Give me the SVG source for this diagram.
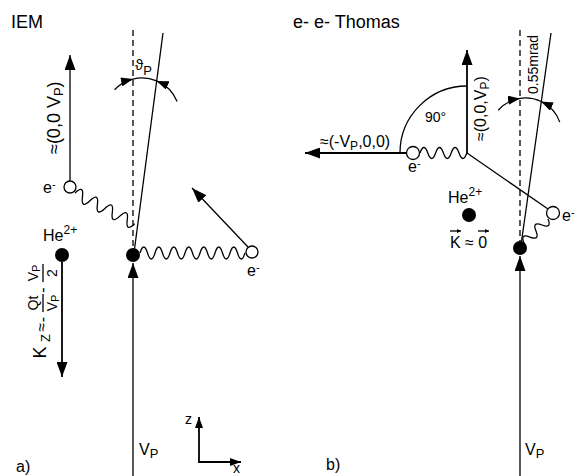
<svg xmlns="http://www.w3.org/2000/svg" width="575" height="476" viewBox="0 0 575 476">
<defs>
<style>
.t{font-family:"Liberation Sans",Arial,"DejaVu Sans",sans-serif;fill:#000}
.ln{stroke:#000;stroke-width:1.3;fill:none}
.th{stroke:#000;stroke-width:1.8;fill:none}
.dash{stroke:#000;stroke-width:1.3;fill:none;stroke-dasharray:6 4}
.dot{fill:#000}
.open{fill:#fff;stroke:#000;stroke-width:1.3}
</style>
<marker id="ah" markerUnits="userSpaceOnUse" markerWidth="15" markerHeight="11" refX="15" refY="5.5" orient="auto"><path d="M0,0L15,5.5L0,11z" fill="#000"/></marker>
<marker id="ahm" markerUnits="userSpaceOnUse" markerWidth="12" markerHeight="9" refX="12" refY="4.5" orient="auto"><path d="M0,0L12,4.5L0,9z" fill="#000"/></marker>
<marker id="aax" markerUnits="userSpaceOnUse" markerWidth="11" markerHeight="8" refX="11" refY="4" orient="auto"><path d="M0,0L11,4L0,8z" fill="#000"/></marker>
<marker id="atiny" markerUnits="userSpaceOnUse" markerWidth="4" markerHeight="4" refX="4" refY="2" orient="auto"><path d="M0,0L4,2L0,4z" fill="#000"/></marker>
</defs>

<!-- titles -->
<text class="t" x="11" y="28" font-size="18">IEM</text>
<text class="t" x="293" y="28" font-size="18">e- e- Thomas</text>
<text class="t" x="16" y="472" font-size="16">a)</text>
<text class="t" x="326" y="470" font-size="16">b)</text>

<g id="connectors">
  <!-- left panel -->
  <path class="ln" d="M133,476L133,263" marker-end="url(#ah)"/>
  <path class="dash" d="M133,30L133,248"/>
  <path class="ln" d="M163,33L134.5,249"/>
  <path class="ln" d="M114.6,89.7A38,38 0 0,1 133,79.1" marker-end="url(#ahm)"/>
  <path class="ln" d="M133,79.1A38,38 0 0,1 156.6,80.9"/>
  <path class="ln" d="M177.1,101.5A38,38 0 0,0 156.6,80.9" marker-end="url(#ahm)"/>
  <path class="th" d="M62,262L62,377" marker-end="url(#ah)"/>
  <path class="ln" d="M70,181L70,55" marker-end="url(#ah)"/>
  <path class="ln" d="M75,193q4.2,-12 8.4,0t8.4,0t8.4,0t8.4,0t8.4,0t8.4,0t8.4,0t8.4,0" transform="rotate(27.3 75 193)"/>
  <path class="ln" d="M140,253q3.75,-12 7.5,0t7.5,0t7.5,0t7.5,0t7.5,0t7.5,0t7.5,0t7.5,0t7.5,0t7.5,0t7.5,0t7.5,0t7.5,0t7.5,0"/>
  <path class="ln" d="M248,247L192,188" marker-end="url(#ah)"/>
  <!-- axes -->
  <path class="th" d="M199,462L199,417" marker-end="url(#aax)"/>
  <path class="th" d="M198.1,462L241,462" marker-end="url(#aax)"/>

  <!-- right panel -->
  <path class="ln" d="M520,476L520,256" marker-end="url(#ah)"/>
  <path class="dash" d="M520,30L520,241"/>
  <path class="ln" d="M551,33L521,245"/>
  <path class="ln" d="M498.2,110.2A36.5,36.5 0 0,1 520,98.4" marker-end="url(#ahm)"/>
  <path class="ln" d="M520,98.4A36.5,36.5 0 0,1 541.1,101.5"/>
  <path class="ln" d="M559.8,122.1A36.5,36.5 0 0,0 541.1,101.5" marker-end="url(#ahm)"/>
  <path class="th" d="M406,153L305,153" marker-end="url(#ah)"/>
  <path class="ln" d="M400,153A67,67 0 0,1 467,86"/>
  <path class="th" d="M467,153L467,50" marker-end="url(#ah)"/>
  <path class="ln" d="M420,153q3.9,-11 7.8,0t7.8,0t7.8,0t7.8,0t7.8,0t7.8,0"/>
  <path class="ln" d="M467,153L548,209"/>
  <path class="ln" d="M548,219q4.25,-10 8.5,0t8.5,0t8.5,0t8.5,0" transform="rotate(135 548 219)"/>
  <path class="ln" d="M450,231L461,231" marker-end="url(#atiny)"/>
  <path class="ln" d="M478,231L489,231" marker-end="url(#atiny)"/>
</g>

<!-- left panel labels -->
<text class="t" x="135" y="70" font-size="15">ϑ<tspan font-size="13" dy="5">P</tspan></text>
<text class="t" x="139" y="455" font-size="16">V<tspan font-size="13" dy="3">P</tspan></text>
<text class="t" x="185" y="424" font-size="14">z</text>
<text class="t" x="233" y="473" font-size="14">x</text>
<text class="t" transform="translate(60,154) rotate(-90)" font-size="18">≈(0,0 V<tspan font-size="13" dy="3">P</tspan><tspan dy="-3">)</tspan></text>

<g id="kz-label" transform="translate(43,362) rotate(-90)">
  <text class="t" x="9.5" y="3" font-size="18" text-anchor="middle">K</text>
  <text class="t" x="24" y="7" font-size="13" text-anchor="middle">Z</text>
  <text class="t" x="35" y="4" font-size="16" text-anchor="middle">≈</text>
  <text class="t" x="42.5" y="5" font-size="16" text-anchor="middle">-</text>
  <text class="t" x="59" y="-5" font-size="14" text-anchor="middle">Qt</text>
  <path class="ln" d="M50,0L68,0"/>
  <text class="t" x="59" y="14" font-size="14" text-anchor="middle">V<tspan font-size="11" dy="2">P</tspan></text>
  <text class="t" x="72" y="5" font-size="16" text-anchor="middle">-</text>
  <text class="t" x="89" y="-5" font-size="14" text-anchor="middle">V<tspan font-size="11" dy="2">P</tspan></text>
  <path class="ln" d="M80,0L98,0"/>
  <text class="t" x="89" y="14" font-size="14" text-anchor="middle">2</text>
</g>

<g id="iem-projectile"><circle class="dot" cx="133" cy="255" r="7"/></g>
<g id="iem-target">
  <circle class="dot" cx="62" cy="255" r="7"/>
  <text class="t" x="43" y="241" font-size="16">He<tspan font-size="12" dy="-7">2+</tspan></text>
</g>
<g id="iem-electron-1">
  <circle class="open" cx="70" cy="187" r="6"/>
  <text class="t" x="43" y="193" font-size="16">e<tspan font-size="11" dy="-5">-</tspan></text>
</g>
<g id="iem-electron-2">
  <circle class="open" cx="252" cy="252" r="6"/>
  <text class="t" x="247" y="276" font-size="16">e<tspan font-size="11" dy="-5">-</tspan></text>
</g>

<!-- right panel labels -->
<text class="t" x="525" y="455" font-size="16">V<tspan font-size="13" dy="3">P</tspan></text>
<text class="t" transform="translate(538,94) rotate(-90)" font-size="14">0.55mrad</text>
<text class="t" transform="translate(486,141) rotate(-90)" font-size="16">≈(0,0,V<tspan font-size="12" dy="3">P</tspan><tspan dy="-3">)</tspan></text>
<text class="t" x="320" y="147" font-size="16">≈(-V<tspan font-size="12" dy="3">P</tspan><tspan dy="-3">,0,0)</tspan></text>
<text class="t" x="425" y="122" font-size="14">90°</text>

<g id="thomas-projectile"><circle class="dot" cx="520" cy="248" r="7"/></g>
<g id="thomas-target">
  <circle class="dot" cx="469" cy="215" r="7"/>
  <text class="t" x="448" y="203" font-size="16">He<tspan font-size="12" dy="-7">2+</tspan></text>
  <text class="t" x="450" y="248" font-size="16">K ≈ 0</text>
</g>
<g id="thomas-electron-1">
  <circle class="open" cx="413" cy="153" r="6.5"/>
  <text class="t" x="408" y="172" font-size="16">e<tspan font-size="11" dy="-5">-</tspan></text>
</g>
<g id="thomas-electron-2">
  <circle class="open" cx="553" cy="213" r="6.5"/>
  <text class="t" x="562" y="221" font-size="16">e<tspan font-size="11" dy="-5">-</tspan></text>
</g>
</svg>
